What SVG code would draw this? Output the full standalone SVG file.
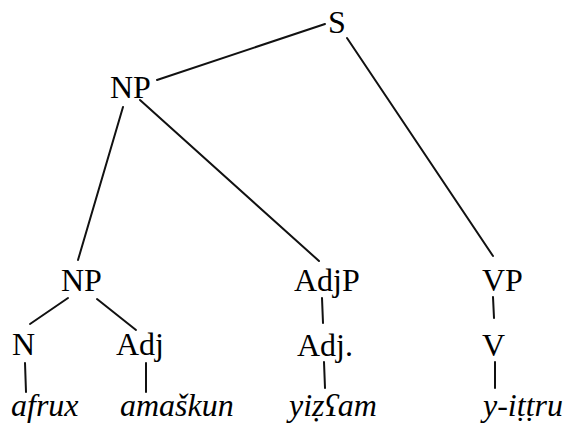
<svg xmlns="http://www.w3.org/2000/svg" width="564" height="426" viewBox="0 0 564 426">
  <rect width="564" height="426" fill="#fff"/>

  <!-- tree branches -->
  <g id="connectors" stroke="#111" stroke-width="2" stroke-linecap="round" fill="none">
    <line x1="325" y1="24" x2="157" y2="80"/>
    <line x1="347" y1="38" x2="493" y2="256"/>
    <line x1="123" y1="107" x2="78" y2="260"/>
    <line x1="140" y1="100" x2="319" y2="261"/>
    <line x1="68" y1="298" x2="30" y2="324"/>
    <line x1="97" y1="299" x2="136" y2="330"/>
    <line x1="322" y1="298" x2="323" y2="323"/>
    <line x1="493" y1="297" x2="494" y2="318"/>
    <line x1="25" y1="363" x2="26" y2="392"/>
    <line x1="146" y1="363" x2="146" y2="392"/>
    <line x1="324" y1="362" x2="325" y2="388"/>
    <line x1="495" y1="362" x2="495" y2="388"/>
  </g>

  <!-- category labels -->
  <g id="S"><text x="328" y="33" font-family="Liberation Serif" font-size="32">S</text></g>
  <g id="NP-top"><text x="110" y="98" font-family="Liberation Serif" font-size="32">NP</text></g>
  <g id="NP-sub"><text x="61" y="291" font-family="Liberation Serif" font-size="32">NP</text></g>
  <g id="AdjP"><text x="294" y="291" font-family="Liberation Serif" font-size="32">AdjP</text></g>
  <g id="VP"><text x="482" y="291" font-family="Liberation Serif" font-size="32">VP</text></g>
  <g id="N"><text x="12" y="355" font-family="Liberation Serif" font-size="32">N</text></g>
  <g id="Adj"><text x="116" y="355" font-family="Liberation Serif" font-size="32">Adj</text></g>
  <g id="Adj-dot"><text x="297" y="356" font-family="Liberation Serif" font-size="32">Adj.</text></g>
  <g id="V"><text x="482" y="356" font-family="Liberation Serif" font-size="32">V</text></g>

  <!-- words -->
  <g id="afrux"><text x="11" y="416" font-family="Liberation Serif" font-size="32" font-style="italic">afrux</text></g>
  <g id="amaskun"><text x="120" y="416" font-family="Liberation Serif" font-size="32" font-style="italic">amaškun</text></g>
  <g id="yizeam"><text x="289" y="416" font-family="Liberation Serif" font-size="32" font-style="italic">yiẓʕam</text></g>
  <g id="y-ittru"><text x="483" y="416" font-family="Liberation Serif" font-size="32" font-style="italic">y-iṭṭru</text></g>
</svg>
